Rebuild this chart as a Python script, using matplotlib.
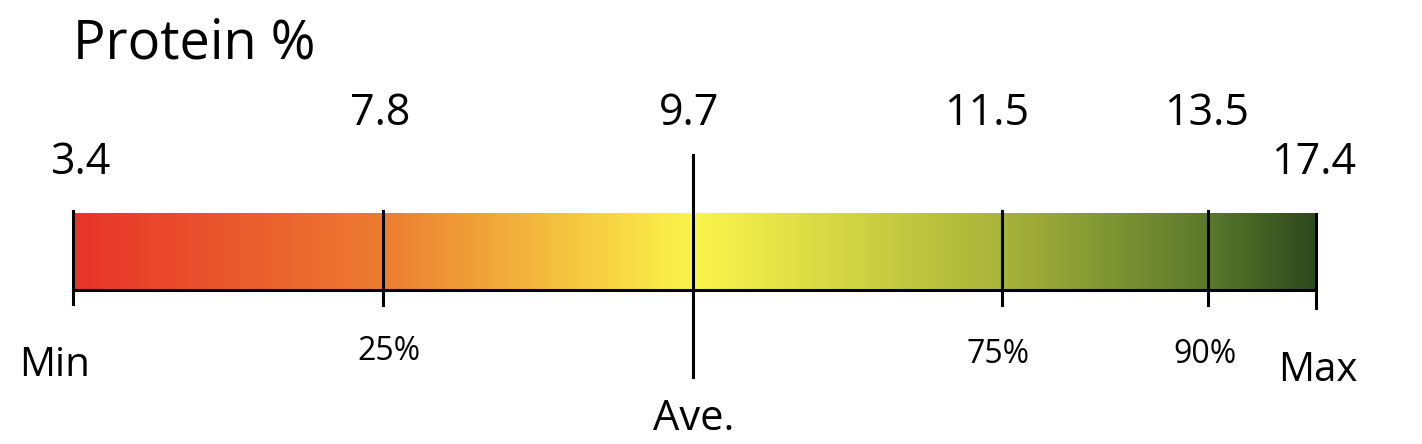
import numpy as np
import matplotlib
matplotlib.use("Agg")
import matplotlib.pyplot as plt
from matplotlib.colors import LinearSegmentedColormap

plt.rcParams['font.family'] = ['Open Sans', 'DejaVu Sans']

# protein values at each marker and their labels
values = [3.4, 7.8, 9.7, 11.5, 13.5, 17.4]
labels = ["Min", "25%", "Ave.", "75%", "90%", "Max"]
stop_colors = ["#e8342a", "#ec7d30", "#fbf54c", "#a9b43a", "#5c7a2c", "#2e4a1f"]

# layout: where each marker sits along the bar (fraction of bar length)
tick_pos = [0, 0.249, 0.499, 0.747, 0.913, 1.0]

fig = plt.figure(figsize=(14.22, 4.44), dpi=100)
ax = fig.add_axes([0, 0, 1, 1])
bar_px = 1243
ax.set_xlim(-73 / bar_px, (1422 - 73) / bar_px)
ax.set_ylim(444, 0)
ax.axis("off")

bar_top, bar_bot = 213, 289
cmap = LinearSegmentedColormap.from_list(
    "protein", list(zip(tick_pos, stop_colors)))
grad = np.linspace(0, 1, 800).reshape(1, -1)
ax.imshow(grad, cmap=cmap, aspect="auto", extent=[0, 1, bar_bot, bar_top],
          interpolation="bilinear", zorder=1)

# baseline under the bar
ax.plot([0, 1], [290, 290], color="black", lw=2.2, zorder=3)

# tick marks
tick_span = [(211, 304), (211, 305), (155, 377), (211, 305), (211, 305), (214, 308)]
for x, (y0, y1) in zip(tick_pos, tick_span):
    ax.plot([x, x], [y0, y1], color="black", lw=2.2, zorder=4)

# value labels above
val_y = [163, 114, 114, 114, 114, 163]
val_dx = [7, -2, -4, -15, -1, -2]
for x, v, y, dx in zip(tick_pos, values, val_y, val_dx):
    ax.text(x + dx / bar_px, y, f"{v}", fontsize=31, ha="center", va="center")

# marker labels below
lab_y = [366, 351, 419, 354, 354, 371]
lab_dx = [-18, 6, 0, -3, -3, 2]
lab_fs = [29, 23, 30, 23, 23, 29]
for x, lab, y, dx, fs in zip(tick_pos, labels, lab_y, lab_dx, lab_fs):
    ax.text(x + dx / bar_px, y, lab, fontsize=fs, ha="center", va="center")

ax.text(0, 44, "Protein %", fontsize=39, ha="left", va="center")

fig.savefig("out.png", dpi=100)
